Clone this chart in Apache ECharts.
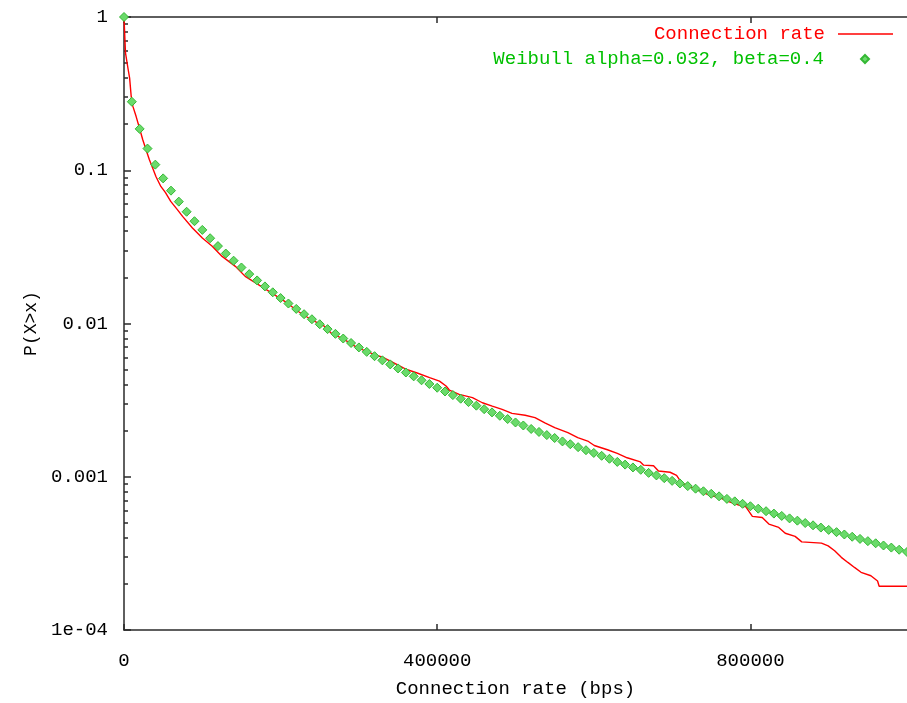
<!DOCTYPE html>
<html><head><meta charset="utf-8">
<script src="https://cdn.jsdelivr.net/npm/echarts@6/dist/echarts.min.js"></script>
<style>html,body{margin:0;padding:0;background:#fff;}#chart{width:907px;height:703px;}</style>
</head><body><div id="chart"></div>
<script>
const seriesNames = ['Connection rate', 'Weibull alpha=0.032, beta=0.4'];
const xAxisTitle = 'Connection rate (bps)';
const yAxisTitle = 'P(X>x)';
const xTicks = [0, 400000, 800000];
const yTicks = [0.0001, 0.001, 0.01, 0.1, 1];
const yTickLabels = ['1e-04', '0.001', '0.01', '0.1', '1'];
const yMinorTicks = [0.0002,0.0003,0.0004,0.0005,0.0006,0.0007,0.0008,0.0009,
  0.002,0.003,0.004,0.005,0.006,0.007,0.008,0.009,
  0.02,0.03,0.04,0.05,0.06,0.07,0.08,0.09,
  0.2,0.3,0.4,0.5,0.6,0.7,0.8,0.9];

const rateX = [0, 1000, 1900, 5050, 7190, 9210, 11360, 15520, 19810, 23970, 28140, 32430, 36590, 40760, 47060, 53000, 59680, 61830, 68140, 74820, 87440, 100060, 112680, 125300, 142200, 154800, 171600, 188400, 205300, 222100, 238900, 247300, 255800, 264100, 281000, 297800, 314600, 331500, 348300, 360900, 373500, 390300, 402900, 411300, 415500, 428100, 445000, 457700, 470300, 482900, 495500, 512300, 524900, 537500, 550100, 566900, 579500, 592200, 600600, 617400, 630000, 642600, 659500, 663700, 676300, 682600, 697400, 705700, 712000, 722600, 735200, 747900, 760500, 773100, 789900, 794000, 802500, 815100, 823600, 836200, 844500, 857100, 865600, 890800, 899300, 907600, 916100, 924500, 932900, 941300, 953900, 962400, 964400, 1000000];
const rateP = [1, 0.75, 0.583, 0.463, 0.399, 0.303, 0.261, 0.224, 0.188, 0.158, 0.136, 0.117, 0.1033, 0.0911, 0.0784, 0.0714, 0.0626, 0.0614, 0.0553, 0.05, 0.042, 0.0361, 0.0319, 0.0274, 0.0236, 0.0203, 0.01795, 0.01585, 0.01396, 0.01202, 0.01062, 0.0101, 0.0096, 0.00869, 0.00787, 0.00695, 0.00644, 0.00598, 0.00541, 0.00501, 0.00477, 0.00443, 0.00421, 0.00391, 0.00368, 0.00345, 0.00328, 0.00304, 0.00289, 0.00275, 0.00259, 0.00252, 0.00243, 0.00225, 0.00209, 0.00194, 0.0018, 0.00171, 0.0016, 0.0015, 0.00142, 0.00133, 0.00125, 0.00119, 0.00118, 0.00109, 0.00107, 0.00102, 0.000916, 0.000863, 0.000809, 0.000757, 0.000732, 0.000685, 0.00064, 0.000638, 0.000551, 0.000542, 0.000491, 0.000467, 0.000428, 0.000408, 0.000376, 0.000369, 0.000354, 0.000329, 0.000298, 0.000276, 0.000256, 0.000238, 0.000226, 0.000209, 0.000193, 0.000193];

const weibullX = [0, 10000, 20000, 30000, 40000, 50000, 60000, 70000, 80000, 90000,
  100000, 110000, 120000, 130000, 140000, 150000, 160000, 170000, 180000, 190000,
  200000, 210000, 220000, 230000, 240000, 250000, 260000, 270000, 280000, 290000,
  300000, 310000, 320000, 330000, 340000, 350000, 360000, 370000, 380000, 390000,
  400000, 410000, 420000, 430000, 440000, 450000, 460000, 470000, 480000, 490000,
  500000, 510000, 520000, 530000, 540000, 550000, 560000, 570000, 580000, 590000,
  600000, 610000, 620000, 630000, 640000, 650000, 660000, 670000, 680000, 690000,
  700000, 710000, 720000, 730000, 740000, 750000, 760000, 770000, 780000, 790000,
  800000, 810000, 820000, 830000, 840000, 850000, 860000, 870000, 880000, 890000,
  900000, 910000, 920000, 930000, 940000, 950000, 960000, 970000, 980000, 990000, 1000000];
const weibullP = [1, 0.280, 0.1862, 0.1385, 0.1088, 0.0885, 0.0736, 0.0624, 0.0536, 0.0465,
  0.0408, 0.0360, 0.0320, 0.0286, 0.0257, 0.0232, 0.0210, 0.0191, 0.01746, 0.01598,
  0.01466, 0.01350, 0.01245, 0.01150, 0.01066, 0.00989, 0.00919, 0.00856, 0.00798, 0.00746,
  0.00698, 0.00653, 0.00612, 0.00575, 0.00541, 0.00509, 0.00479, 0.00452, 0.00426, 0.00403,
  0.00381, 0.00360, 0.00341, 0.00323, 0.00307, 0.00291, 0.00276, 0.00263, 0.00250, 0.00238,
  0.00226, 0.00216, 0.00205, 0.00196, 0.00187, 0.00179, 0.00170, 0.00163, 0.00156, 0.00149,
  0.00143, 0.00137, 0.00131, 0.00125, 0.00120, 0.00115, 0.00111, 0.00106, 0.00102, 0.000979,
  0.000940, 0.000904, 0.000869, 0.000836, 0.000804, 0.000774, 0.000745, 0.000717, 0.000691, 0.000666,
  0.000642, 0.000619, 0.000596, 0.000575, 0.000555, 0.000535, 0.000517, 0.000499, 0.000482, 0.000466,
  0.000450, 0.000435, 0.000420, 0.000406, 0.000393, 0.000380, 0.000368, 0.000356, 0.000345, 0.000334,
  0.000323];

const FONT = 'Liberation Mono';
const FS = 19;
const lineSt = {color: '#2a2a2a', width: 1.5};

const chart = echarts.init(document.getElementById('chart'), null, {renderer: 'canvas'});
const option = {
  animation: false,
  backgroundColor: '#ffffff',
  grid: {left: 124, top: 17, width: 792.5, height: 614, show: false},
  legend: [
    {
      data: [{name: seriesNames[0], icon: 'rect', textStyle: {color: '#ff0000'},
              itemStyle: {color: '#ff0000', borderWidth: 0}}],
      right: 14, top: 24, orient: 'vertical', align: 'right', padding: 0,
      itemWidth: 55, itemHeight: 1.5, selectedMode: false,
      textStyle: {fontFamily: FONT, fontSize: FS, lineHeight: 20, padding: [0, 8, 0, 0]}
    },
    {
      data: [{name: seriesNames[1], icon: 'diamond', textStyle: {color: '#00c000'}}],
      right: 37, top: 49, orient: 'vertical', align: 'right', padding: 0,
      itemWidth: 8, itemHeight: 8, selectedMode: false,
      textStyle: {fontFamily: FONT, fontSize: FS, lineHeight: 20, padding: [0, 32, 0, 0]}
    }
  ],
  xAxis: [
    {
      type: 'value', min: 0, max: 1000000, interval: 400000, position: 'bottom',
      axisLine: {show: true, lineStyle: lineSt},
      axisTick: {show: true, inside: true, length: 6, lineStyle: lineSt, customValues: xTicks},
      axisLabel: {customValues: xTicks, fontFamily: FONT, fontSize: FS, color: '#000', margin: 21,
                  formatter: v => String(v)},
      splitLine: {show: false},
      name: xAxisTitle, nameLocation: 'middle', nameGap: 49,
      nameTextStyle: {fontFamily: FONT, fontSize: FS, color: '#000'}
    },
    {
      type: 'value', min: 0, max: 1000000, interval: 400000, position: 'top',
      axisLine: {show: true, lineStyle: lineSt},
      axisTick: {show: true, inside: true, length: 6, lineStyle: lineSt, customValues: xTicks},
      axisLabel: {show: false}, splitLine: {show: false}
    }
  ],
  yAxis: [
    {
      type: 'log', logBase: 10, min: 0.0001, max: 1, position: 'left',
      axisLine: {show: true, lineStyle: lineSt},
      axisTick: {show: true, inside: true, length: 7, lineStyle: lineSt, customValues: yTicks},
      axisLabel: {customValues: yTicks, fontFamily: FONT, fontSize: FS, color: '#000', margin: 16,
        formatter: function (v) {
          let best = 0, bd = 1e9;
          yTicks.forEach((t, i) => { const d = Math.abs(Math.log10(t) - Math.log10(v)); if (d < bd) { bd = d; best = i; } });
          return yTickLabels[best];
        }},
      splitLine: {show: false},
      name: yAxisTitle, nameLocation: 'middle', nameGap: 72, nameRotate: 90,
      nameTextStyle: {fontFamily: FONT, fontSize: 18, color: '#000'}
    },
    {
      type: 'log', logBase: 10, min: 0.0001, max: 1, position: 'left',
      axisLine: {show: false},
      axisTick: {show: true, inside: true, length: 4, lineStyle: lineSt, customValues: yMinorTicks},
      axisLabel: {show: false}, splitLine: {show: false}
    }
  ],
  series: [
    {
      name: seriesNames[0], type: 'line', xAxisIndex: 0, yAxisIndex: 0,
      data: rateX.map((x, i) => [x, rateP[i]]),
      symbol: 'none', showSymbol: false,
      lineStyle: {color: '#ff0000', width: 1.4}, itemStyle: {color: '#ff0000'}, z: 2
    },
    {
      name: seriesNames[1], type: 'scatter', xAxisIndex: 0, yAxisIndex: 0,
      data: weibullX.map((x, i) => [x, weibullP[i]]),
      symbol: 'diamond', symbolSize: 9,
      itemStyle: {color: '#6ada6a', borderColor: '#34b834', borderWidth: 1, opacity: 1}, z: 3
    }
  ]
};
chart.setOption(option);
</script>
</body></html>
